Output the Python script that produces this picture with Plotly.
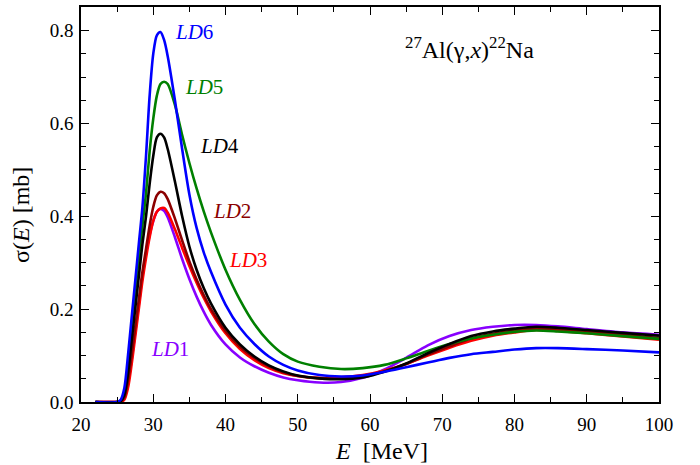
import plotly.graph_objects as go

E = [22, 25, 25.5, 26, 26.5, 27, 27.5, 28, 28.5, 29, 29.5, 30, 30.5, 31, 31.5, 32,
     33, 34, 35, 36, 37, 38, 40, 42, 44, 46, 48, 50, 53, 56, 59, 62, 65, 68, 71,
     74, 77, 80, 83, 86, 90, 95, 100]

LD1 = [0, 0, 0.001, 0.008, 0.04, 0.09, 0.15, 0.21, 0.27, 0.32, 0.36, 0.39, 0.41, 0.416, 0.412, 0.398,
       0.355, 0.308, 0.265, 0.227, 0.194, 0.166, 0.124, 0.096, 0.077, 0.063, 0.053, 0.047, 0.042, 0.043, 0.052, 0.07, 0.095, 0.122, 0.142,
       0.155, 0.162, 0.166, 0.166, 0.163, 0.157, 0.15, 0.145]
LD2 = [0, 0, 0.001, 0.01, 0.045, 0.1, 0.16, 0.22, 0.28, 0.33, 0.38, 0.42, 0.445, 0.453, 0.45, 0.437,
       0.395, 0.348, 0.303, 0.264, 0.23, 0.2, 0.153, 0.119, 0.095, 0.077, 0.064, 0.056, 0.051, 0.051, 0.055, 0.066, 0.082, 0.102, 0.12,
       0.137, 0.147, 0.154, 0.158, 0.157, 0.152, 0.145, 0.138]
LD3 = [0, 0, 0, 0.005, 0.03, 0.08, 0.14, 0.2, 0.26, 0.31, 0.355, 0.39, 0.41, 0.417, 0.418, 0.408,
       0.372, 0.332, 0.293, 0.257, 0.224, 0.195, 0.148, 0.114, 0.09, 0.073, 0.062, 0.056, 0.052, 0.053, 0.058, 0.068, 0.082, 0.1, 0.117,
       0.132, 0.143, 0.15, 0.155, 0.153, 0.148, 0.141, 0.134]
LD4 = [0, 0, 0.002, 0.015, 0.06, 0.13, 0.2, 0.27, 0.34, 0.4, 0.47, 0.53, 0.57, 0.578, 0.57, 0.545,
       0.475, 0.4, 0.335, 0.285, 0.245, 0.212, 0.16, 0.124, 0.098, 0.079, 0.066, 0.057, 0.051, 0.049, 0.053, 0.065, 0.083, 0.105, 0.125,
       0.142, 0.152, 0.158, 0.162, 0.16, 0.155, 0.149, 0.143]
LD5 = [0, 0, 0.003, 0.02, 0.08, 0.16, 0.24, 0.31, 0.38, 0.45, 0.54, 0.61, 0.66, 0.685, 0.69, 0.685,
       0.64, 0.575, 0.515, 0.46, 0.41, 0.365, 0.285, 0.22, 0.168, 0.13, 0.103, 0.087, 0.076, 0.071, 0.073, 0.08, 0.094, 0.11, 0.125,
       0.137, 0.145, 0.151, 0.154, 0.152, 0.148, 0.142, 0.136]
LD6 = [0, 0, 0.005, 0.03, 0.1, 0.18, 0.26, 0.34, 0.42, 0.53, 0.66, 0.75, 0.79, 0.797, 0.78, 0.745,
       0.65, 0.545, 0.447, 0.375, 0.322, 0.28, 0.21, 0.16, 0.125, 0.098, 0.08, 0.068, 0.058, 0.055, 0.057, 0.065, 0.075, 0.085, 0.095,
       0.103, 0.108, 0.113, 0.116, 0.116, 0.114, 0.111, 0.107]

series = [
    ("LD1", LD1, "#8800ff"),
    ("LD3", LD3, "#ff0000"),
    ("LD2", LD2, "#8b0000"),
    ("LD5", LD5, "#008000"),
    ("LD4", LD4, "#000000"),
    ("LD6", LD6, "#0000ff"),
]

label_names = ["LD6", "LD5", "LD4", "LD2", "LD3", "LD1"]
label_x = [35.6, 37.0, 39.2, 40.9, 43.1, 32.3]
label_y = [0.798, 0.678, 0.551, 0.412, 0.307, 0.114]
label_colors = ["#0000ff", "#008000", "#000000", "#8b0000", "#ff0000", "#8800ff"]

FONT = "Liberation Serif, Times New Roman, serif"

fig = go.Figure()
for name, ys, col in series:
    fig.add_trace(go.Scatter(x=E, y=ys, mode="lines", name=name,
                             line=dict(color=col, width=2.6, shape="spline", smoothing=0.8)))

for n, x, y, c in zip(label_names, label_x, label_y, label_colors):
    fig.add_annotation(x=x, y=y, text="<i>LD</i>" + n[2:], showarrow=False,
                       xanchor="center", yanchor="middle",
                       font=dict(family=FONT, size=21, color=c))

fig.add_annotation(x=(469 - 81) / 578, y=1 - (46 - 5) / 397, xref="paper", yref="paper",
                   xanchor="center", yanchor="middle",
                   text="<sup>27</sup>Al(γ,<i>x</i>)<sup>22</sup>Na", showarrow=False,
                   font=dict(family=FONT, size=24, color="black"))

# axis titles placed as annotations
fig.add_annotation(x=(381 - 81) / 578, y=1 - (451 - 5) / 397, xref="paper", yref="paper",
                   xanchor="center", yanchor="middle", showarrow=False,
                   text="<i>E</i>  [MeV]", font=dict(family=FONT, size=24, color="black"))
fig.add_annotation(x=(21 - 81) / 578, y=1 - (214 - 5) / 397, xref="paper", yref="paper",
                   xanchor="center", yanchor="middle", showarrow=False, textangle=-90,
                   text="σ(<i>E</i>) [mb]", font=dict(family=FONT, size=24, color="black"))

axis_common = dict(showline=True, linecolor="black", linewidth=1.5, mirror="ticks",
                   ticks="inside", ticklen=8, tickwidth=1.3, tickcolor="black",
                   showgrid=False, zeroline=False,
                   tickfont=dict(family=FONT, size=19, color="black"))

fig.update_xaxes(range=[20, 100], tick0=20, dtick=10, ticklabelstandoff=4,
                 minor=dict(ticks="inside", ticklen=5, dtick=5, tickcolor="black", tickwidth=1.2),
                 **axis_common)
fig.update_yaxes(range=[0, 0.851], tick0=0, dtick=0.2, tickformat=".1f", ticklabelstandoff=2,
                 minor=dict(ticks="inside", ticklen=5, dtick=0.05, tickcolor="black", tickwidth=1.2),
                 **axis_common)

fig.update_layout(width=700, height=465, margin=dict(l=81, r=41, t=5, b=63),
                  plot_bgcolor="white", paper_bgcolor="white", showlegend=False)

fig.write_html("out.html")
